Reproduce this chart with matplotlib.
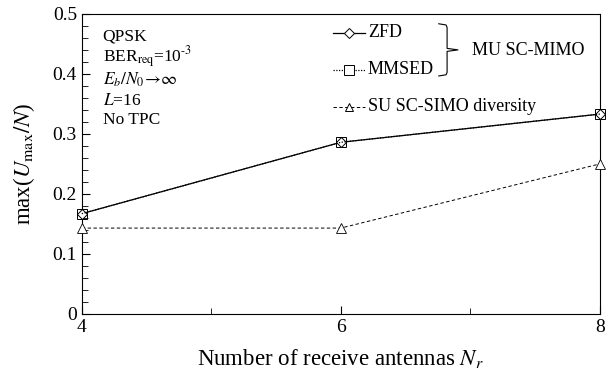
import matplotlib
matplotlib.use("Agg")
import matplotlib.pyplot as plt
from matplotlib.lines import Line2D

plt.rcParams['font.family'] = ['Liberation Serif', 'DejaVu Serif']
plt.rcParams['mathtext.fontset'] = 'stix'

nr = [4, 6, 8]
zfd = [0.167, 0.286, 0.333]
mmsed = [0.167, 0.286, 0.333]
su = [0.143, 0.143, 0.25]

fig = plt.figure(figsize=(6.06, 3.75), dpi=100)
ax = fig.add_axes([0.135, 0.163, 0.855, 0.800])

ax.plot(nr, zfd, color='black', lw=0.9, ls='-', marker='D', ms=5, mfc='white', mec='black', mew=0.7, zorder=3, clip_on=False)
ax.plot(nr, mmsed, color='black', lw=0.9, ls=(0, (1, 1.2)), marker='s', ms=7.5, mfc='none', mec='black', mew=0.7, zorder=4, clip_on=False)
ax.plot(nr, su, color='black', lw=0.7, ls=(0, (3.5, 2.5)), marker='^', ms=6.5, mfc='white', mec='black', mew=0.6, zorder=3, clip_on=False)

ax.set_xlim(4, 8)
ax.set_ylim(0, 0.5)
ax.set_xticks([4, 6, 8])
ax.set_xticks([5, 7], minor=True)
ax.set_yticks([0, 0.1, 0.2, 0.3, 0.4, 0.5])
ax.set_yticklabels(['0', '0.1', '0.2', '0.3', '0.4', '0.5'])
ax.set_yticks([i * 0.02 for i in range(26)], minor=True)
ax.tick_params(direction='in', which='both', labelsize=14, top=False, right=False)
ax.tick_params(which='major', length=6, width=0.8)
ax.tick_params(which='minor', length=4, width=0.6)
for s in ax.spines.values():
    s.set_linewidth(0.8)

ax.set_xlabel('Number of receive antennas $N_r$', fontsize=16.5, labelpad=8)
ax.set_ylabel(r'max($U_{\rm max}/N$)', fontsize=16.5, labelpad=11)

tx = 0.04
fs = 12.5
ax.text(tx, 0.924, 'QPSK', transform=ax.transAxes, fontsize=fs, va='center')
ax.text(tx, 0.857, r'BER$_{\rm req}$=10$^{\text{-3}}$', transform=ax.transAxes, fontsize=fs, va='center')
ax.text(tx, 0.780, r'$E_b/N_0\!\rightarrow\!\infty$', transform=ax.transAxes, fontsize=fs, va='center')
ax.text(tx, 0.710, r'$L$=16', transform=ax.transAxes, fontsize=fs, va='center')
ax.text(tx, 0.646, 'No TPC', transform=ax.transAxes, fontsize=fs, va='center')

# legend-like annotations
lx0, lx1 = 0.485, 0.546
entries = [
    (0.937, '-', 'D', 5, 'ZFD', 0.9),
    (0.813, (0, (1, 1.2)), 's', 7, 'MMSED', 0.9),
    (0.690, (0, (3.5, 2.5)), '^', 6, 'SU SC-SIMO diversity', 0.7),
]
for y, ls, mk, ms, lab, lw in entries:
    ax.add_line(Line2D([lx0, lx1], [y, y], transform=ax.transAxes, color='black', lw=lw, ls=ls))
    ax.add_line(Line2D([(lx0 + lx1) / 2], [y], transform=ax.transAxes, marker=mk, ms=ms, mfc='white', mec='black', mew=0.7, ls='none'))
    ax.text(lx1 + 0.006, y, lab, transform=ax.transAxes, fontsize=13, va='center')

# bracket
ax.add_line(Line2D([0.689, 0.703, 0.705, 0.705, 0.726, 0.705, 0.705, 0.703, 0.689],
                   [0.967, 0.963, 0.955, 0.885, 0.880, 0.875, 0.805, 0.797, 0.793],
                   transform=ax.transAxes, color='black', lw=0.8))
ax.text(0.754, 0.878, 'MU SC-MIMO', transform=ax.transAxes, fontsize=13, va='center')

fig.savefig('out.png', dpi=100)
